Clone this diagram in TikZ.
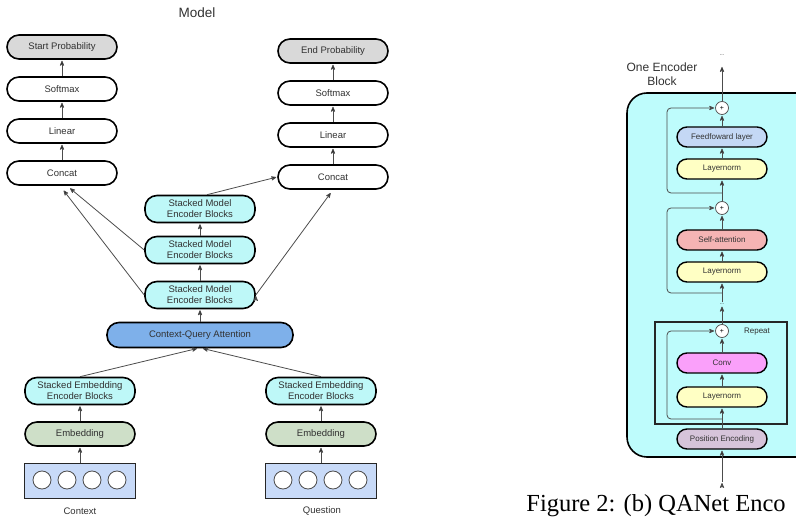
\documentclass[tikz,border=0pt]{standalone}
\usepackage{fontspec}
\setmainfont{Liberation Sans}
\newfontfamily\capfont{Liberation Serif}
\usepackage{tikz}
\usetikzlibrary{arrows}
\definecolor{probgray}{RGB}{217,217,217}
\definecolor{stackcyan}{RGB}{190,248,248}
\definecolor{blockcyan}{RGB}{190,252,252}
\definecolor{cqablue}{RGB}{126,176,234}
\definecolor{embgreen}{RGB}{206,223,200}
\definecolor{inblue}{RGB}{200,218,248}
\definecolor{ffblue}{RGB}{196,216,245}
\definecolor{lnyellow}{RGB}{255,255,196}
\definecolor{sapink}{RGB}{245,180,180}
\definecolor{convpink}{RGB}{250,160,250}
\definecolor{pelilac}{RGB}{214,196,218}
\definecolor{txtgray}{RGB}{50,50,50}

\begin{document}
\begin{tikzpicture}[x=1pt,y=-1pt,>=stealth',shorten >=1pt,node distance=42pt,
                    line width=0.8pt]
  \tikzstyle{box}=[draw=black,line width=1.6pt,rounded corners=12pt,minimum width=110pt,
                   minimum height=24pt,inner sep=1pt,align=center,text=txtgray,
                   font=\fontsize{9.5}{11}\selectfont]
  \tikzstyle{small box}=[box,rounded corners=10pt,minimum width=90pt,minimum height=20pt,
                         line width=1.4pt,font=\fontsize{8}{10}\selectfont]
  \tikzstyle{plus}=[circle,draw=black!70,line width=0.7pt,fill=white,inner sep=0pt,
                    minimum size=13pt,font=\fontsize{7}{7}\selectfont]
  \tikzstyle{link}=[draw=black!70,line width=0.8pt]

  \useasboundingbox (0,0) rectangle (796,518);
  \clip (0,0) rectangle (796,518);

  \node[font=\fontsize{13.5}{16}\selectfont,text=txtgray] (title) at (197,13) {Model};

  \node[box] (concatL) at (62,173)        {Concat};
  \node[box] (linL)    [above of=concatL] {Linear};
  \node[box] (softL)   [above of=linL]    {Softmax};
  \node[box,fill=probgray] (startL) [above of=softL] {Start Probability};

  \node[box] (concatR) at (333,177)       {Concat};
  \node[box] (linR)    [above of=concatR] {Linear};
  \node[box] (softR)   [above of=linR]    {Softmax};
  \node[box,fill=probgray] (endR) [above of=softR] {End Probability};

  \node[box,fill=stackcyan,minimum height=27pt] (smeA) at (200,295) {Stacked Model\\Encoder Blocks};
  \node[box,fill=stackcyan,minimum height=27pt] (smeB) at (200,250) {Stacked Model\\Encoder Blocks};
  \node[box,fill=stackcyan,minimum height=27pt] (smeC) at (200,209) {Stacked Model\\Encoder Blocks};
  \node[box,fill=cqablue,minimum width=186pt,minimum height=25pt] (cqa) at (200,335) {Context-Query Attention};

  \node[box,fill=stackcyan,minimum height=27pt] (seL) at (80,391)  {Stacked Embedding\\Encoder Blocks};
  \node[box,fill=stackcyan,minimum height=27pt] (seR) at (321,391) {Stacked Embedding\\Encoder Blocks};
  \node[box,fill=embgreen] (embL) at (80,434)  {Embedding};
  \node[box,fill=embgreen] (embR) at (321,434) {Embedding};

  \node[draw=black!85,line width=1.8pt,fill=inblue,minimum width=111pt,minimum height=35pt] (inL) at (80,481) {};
  \node[draw=black!85,line width=1.8pt,fill=inblue,minimum width=111pt,minimum height=35pt] (inR) at (321,481) {};
  \foreach \i in {0,...,3} {
    \draw[draw=black!70,fill=white,line width=0.8pt] (42+25*\i,480) circle (9);
    \draw[draw=black!70,fill=white,line width=0.8pt] (283+25*\i,480) circle (9);
  }
  \node[font=\fontsize{9.5}{11}\selectfont,text=txtgray] (ctx) at (80,511)  {Context};
  \node[font=\fontsize{9.5}{11}\selectfont,text=txtgray] (qst) at (322,511) {Question};

  \draw[->,link]
        (concatL) edge (linL)
        (linL)    edge (softL)
        (softL)   edge (startL)
        (concatR) edge (linR)
        (linR)    edge (softR)
        (softR)   edge (endR)
        (inL)  edge (embL)
        (embL) edge (seL)
        (inR)  edge (embR)
        (embR) edge (seR)
        (seL.north) edge ([xshift=-2pt]cqa.south)
        (seR.north) edge ([xshift=2pt]cqa.south)
        (cqa)  edge (smeA)
        (smeA) edge (smeB)
        (smeB) edge (smeC)
        (smeB.west) edge [shorten >=4pt] ([xshift=5pt]concatL.south)
        (smeA.west) edge [shorten >=6pt] ([xshift=-2pt]concatL.south)
        ([xshift=7pt]smeC.north) edge (concatR.west)
        (smeA.east) edge [shorten >=4pt] (concatR.south);

  \draw[line width=1.6pt,fill=blockcyan,rounded corners=20pt] (627,93) rectangle (817,457);
  \draw[line width=1.1pt,draw=black!85] (655,322) rectangle (787,424);
  \node[font=\fontsize{12}{14}\selectfont,align=center,text=txtgray] (blk) at (662,74) {One Encoder\\Block};
  \node[font=\fontsize{8}{10}\selectfont,text=txtgray] (rep) at (757,332) {Repeat};

  \node[small box,fill=pelilac]   (pe)   at (722,439) {Position Encoding};
  \node[small box,fill=lnyellow]  (ln3)  at (722,397) {Layernorm};
  \node[small box,fill=convpink]  (conv) at (722,363) {Conv};
  \node[plus] (p3) at (722,331) {+};
  \node[font=\fontsize{5}{5}\selectfont,inner sep=1pt] (dots) at (722,304) {...};
  \node[small box,fill=lnyellow]  (ln2)  at (722,272) {Layernorm};
  \node[small box,fill=sapink]    (sa)   at (722,240) {Self-attention};
  \node[plus] (p2) at (722,208) {+};
  \node[small box,fill=lnyellow]  (ln1)  at (722,169) {Layernorm};
  \node[small box,fill=ffblue]    (ff)   at (722,137) {Feedfoward layer};
  \node[plus] (p1) at (722,108) {+};
  \node[font=\fontsize{5}{5}\selectfont,inner sep=1pt] (topdots) at (722,55) {...};

  \coordinate (in)  at (722,482);
  \coordinate (out) at (722,66);
  \coordinate (j1)  at (722,193);
  \coordinate (j2)  at (722,293);
  \coordinate (j3)  at (722,419);

  \draw[->,link]
        (in)   edge (pe)
        (pe)   edge (ln3)
        (ln3)  edge (conv)
        (conv) edge (p3)
        (p3)   edge (dots)
        (dots) edge (ln2)
        (ln2)  edge (sa)
        (sa)   edge (p2)
        (p2)   edge (ln1)
        (ln1)  edge (ff)
        (ff)   edge (p1)
        (p1)   edge (out);

  \draw[->,link,rounded corners=4pt] (j3) -- (667,419) |- (p3);
  \draw[->,link,rounded corners=4pt] (j2) -- (667,293) |- (p2);
  \draw[->,link,rounded corners=4pt] (j1) -- (667,193) |- (p1);

  \node[anchor=base west,font=\capfont\fontsize{24.5}{26}\selectfont,inner sep=0pt] (cap) at (526,512) {Figure 2: (b) QANet Enco};
\end{tikzpicture}
\end{document}
